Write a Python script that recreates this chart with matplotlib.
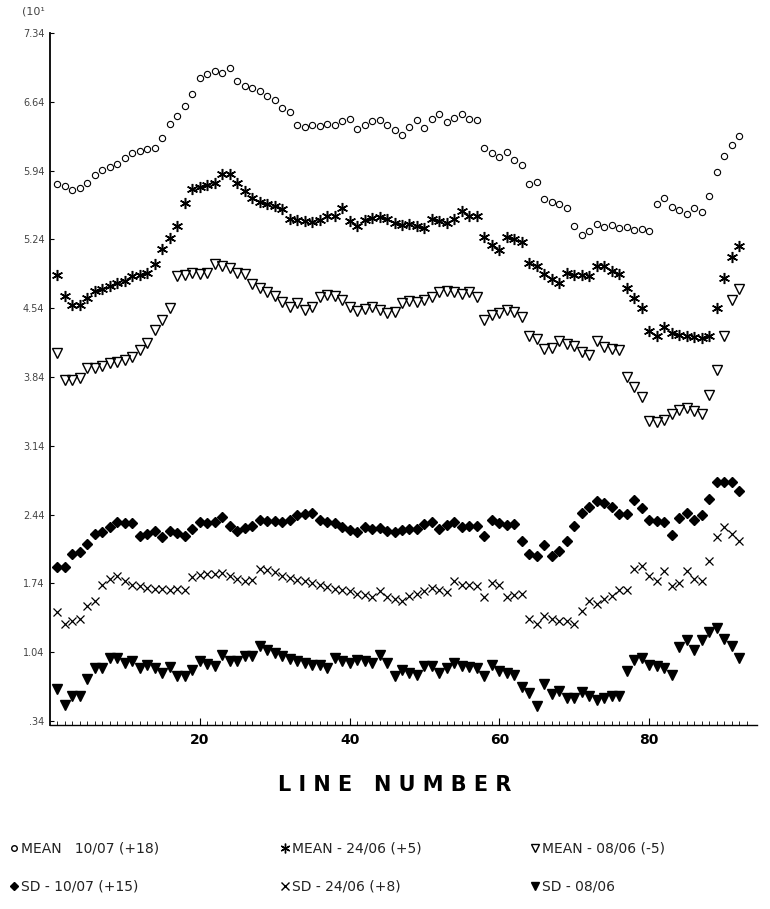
import matplotlib
matplotlib.use("Agg")
import matplotlib.pyplot as plt
import numpy as np
from matplotlib.lines import Line2D

line_number = list(range(1, 93))

mean_1007 = [5.80,5.78,5.74,5.76,5.81,5.90,5.95,5.98,6.01,6.07,
             6.12,6.14,6.16,6.17,6.27,6.41,6.50,6.60,6.72,6.88,
             6.92,6.95,6.93,6.98,6.85,6.80,6.78,6.75,6.70,6.66,
             6.58,6.54,6.40,6.38,6.40,6.39,6.41,6.40,6.44,6.46,
             6.36,6.40,6.44,6.45,6.40,6.35,6.30,6.38,6.45,6.37,
             6.47,6.52,6.43,6.48,6.52,6.46,6.45,6.17,6.12,6.08,
             6.13,6.05,6.00,5.80,5.82,5.65,5.62,5.60,5.56,5.38,
             5.28,5.33,5.40,5.37,5.39,5.36,5.37,5.34,5.35,5.33,
             5.60,5.66,5.57,5.54,5.50,5.56,5.52,5.68,5.93,6.09,
             6.20,6.29]

mean_2406 = [4.88,4.66,4.57,4.57,4.64,4.72,4.74,4.77,4.80,4.82,
             4.87,4.88,4.90,4.99,5.14,5.25,5.38,5.61,5.75,5.77,
             5.79,5.81,5.91,5.91,5.81,5.73,5.66,5.62,5.60,5.58,
             5.55,5.45,5.44,5.43,5.42,5.44,5.48,5.48,5.56,5.43,
             5.38,5.44,5.46,5.47,5.45,5.41,5.39,5.40,5.38,5.36,
             5.45,5.43,5.41,5.45,5.53,5.48,5.48,5.26,5.18,5.13,
             5.26,5.24,5.21,5.00,4.97,4.89,4.84,4.80,4.90,4.88,
             4.88,4.87,4.97,4.97,4.92,4.89,4.75,4.64,4.54,4.31,
             4.26,4.35,4.29,4.27,4.26,4.25,4.24,4.26,4.54,4.85,
             5.06,5.17]

mean_0806 = [4.08,3.81,3.81,3.83,3.93,3.93,3.95,3.98,3.99,4.01,
             4.04,4.11,4.19,4.32,4.42,4.54,4.87,4.88,4.90,4.89,
             4.90,4.99,4.97,4.95,4.90,4.89,4.79,4.75,4.70,4.66,
             4.60,4.55,4.59,4.52,4.55,4.65,4.67,4.66,4.62,4.55,
             4.51,4.53,4.55,4.52,4.49,4.50,4.59,4.61,4.60,4.62,
             4.65,4.70,4.72,4.70,4.68,4.70,4.65,4.42,4.47,4.49,
             4.52,4.50,4.45,4.26,4.23,4.13,4.14,4.21,4.18,4.16,
             4.09,4.06,4.21,4.15,4.13,4.11,3.84,3.74,3.64,3.39,
             3.38,3.40,3.46,3.50,3.53,3.49,3.46,3.66,3.91,4.26,
             4.62,4.74]

sd_1007 = [1.91,1.91,2.04,2.06,2.14,2.24,2.26,2.31,2.37,2.35,
           2.35,2.22,2.24,2.27,2.21,2.27,2.25,2.22,2.29,2.37,
           2.36,2.37,2.42,2.32,2.27,2.30,2.32,2.39,2.38,2.38,
           2.37,2.39,2.44,2.45,2.46,2.39,2.37,2.36,2.31,2.28,
           2.26,2.31,2.29,2.30,2.27,2.26,2.28,2.29,2.29,2.34,
           2.37,2.29,2.33,2.37,2.31,2.32,2.32,2.22,2.39,2.36,
           2.33,2.34,2.17,2.04,2.02,2.13,2.02,2.07,2.17,2.32,
           2.46,2.52,2.58,2.56,2.52,2.45,2.45,2.59,2.51,2.39,
           2.38,2.37,2.23,2.41,2.46,2.39,2.44,2.60,2.77,2.77,
           2.77,2.68]

sd_2406 = [1.45,1.33,1.36,1.38,1.51,1.56,1.72,1.79,1.82,1.76,
           1.72,1.71,1.69,1.68,1.68,1.67,1.68,1.67,1.81,1.83,
           1.84,1.84,1.85,1.82,1.79,1.76,1.78,1.89,1.88,1.86,
           1.82,1.80,1.78,1.76,1.74,1.72,1.70,1.68,1.67,1.66,
           1.63,1.62,1.60,1.66,1.60,1.58,1.56,1.61,1.63,1.66,
           1.69,1.67,1.65,1.77,1.72,1.72,1.71,1.60,1.74,1.72,
           1.60,1.62,1.63,1.38,1.33,1.41,1.38,1.36,1.36,1.33,
           1.46,1.56,1.53,1.58,1.61,1.67,1.67,1.89,1.92,1.82,
           1.76,1.87,1.71,1.74,1.87,1.79,1.76,1.97,2.21,2.31,
           2.24,2.17]

sd_0806 = [0.67,0.50,0.59,0.60,0.77,0.88,0.88,0.98,0.98,0.93,
           0.95,0.88,0.91,0.88,0.83,0.89,0.80,0.80,0.86,0.95,
           0.92,0.90,1.01,0.95,0.95,1.00,1.00,1.10,1.06,1.03,
           1.00,0.97,0.95,0.93,0.91,0.91,0.88,0.98,0.95,0.93,
           0.96,0.95,0.93,1.01,0.93,0.80,0.86,0.83,0.81,0.90,
           0.90,0.83,0.88,0.93,0.90,0.89,0.88,0.80,0.91,0.85,
           0.83,0.81,0.69,0.63,0.49,0.72,0.62,0.65,0.57,0.57,
           0.64,0.60,0.55,0.57,0.59,0.59,0.85,0.96,0.98,0.91,
           0.90,0.88,0.81,1.09,1.16,1.06,1.16,1.25,1.29,1.17,
           1.10,0.98]

ytick_vals = [0.34, 1.04, 1.74, 2.44, 3.14, 3.84, 4.54, 5.24, 5.94, 6.64, 7.34]
ytick_labels = [".34", "1.04", "1.74", "2.44", "3.14", "3.84", "4.54", "5.24", "5.94", "6.64", "7.34"]
xtick_vals = [20, 40, 60, 80]

legend_row1 = ["MEAN   10/07 (+18)", "MEAN - 24/06 (+5)", "MEAN - 08/06 (-5)"]
legend_row2 = ["SD - 10/07 (+15)", "SD - 24/06 (+8)", "SD - 08/06"]

fig = plt.figure(figsize=(7.70, 9.09), dpi=100)
ax = fig.add_axes([50/770, 1 - 725/909, (757 - 50)/770, (725 - 33)/909])

x = np.array(line_number)
k = dict(linestyle="none", color="black")
ax.plot(x, mean_1007, marker="o", markersize=4.5, markerfacecolor="none", markeredgewidth=0.8, **k)
ax.plot(x, mean_2406, marker=(6, 2, 0), markersize=8, markeredgewidth=1.1, **k)
ax.plot(x, mean_0806, marker="v", markersize=7, markerfacecolor="none", markeredgewidth=1.0, **k)
ax.plot(x, sd_1007, marker="D", markersize=5.5, markerfacecolor="black", **k)
ax.plot(x, sd_2406, marker="x", markersize=6, markeredgewidth=0.9, **k)
ax.plot(x, sd_0806, marker="v", markersize=7, markerfacecolor="black", **k)

ax.set_xlim(0, 94.4)
ax.set_ylim(0.30, 7.34)
for s in ["top", "right"]:
    ax.spines[s].set_visible(False)
ax.spines["left"].set_linewidth(1.3)
ax.spines["bottom"].set_linewidth(1.0)

ax.set_xticks(xtick_vals)
ax.set_xticklabels([str(v) for v in xtick_vals], fontsize=10, fontweight="bold")
ax.set_xticks(np.arange(1, 94, 1), minor=True)
ax.tick_params(axis="x", which="major", direction="in", length=5, pad=6)
ax.tick_params(axis="x", which="minor", direction="in", length=3, width=0.6)
ax.set_yticks(ytick_vals)
ax.set_yticklabels(ytick_labels, fontsize=7, color="#444444")
ax.tick_params(axis="y", direction="in", length=3, pad=4)

fig.text(395/770, 1 - 785/909, "L I N E   N U M B E R", ha="center", va="center",
         fontsize=15, fontweight="bold")
fig.text(22/770, 1 - 12/909, "(10¹", ha="left", va="center", fontsize=8, color="#444444")

# legend
cols = [14, 285, 535]
rows = [848, 886]
markers1 = [dict(marker="o", markerfacecolor="none", markersize=4),
            dict(marker=(6, 2, 0), markersize=7),
            dict(marker="v", markerfacecolor="none", markersize=6)]
markers2 = [dict(marker="D", markerfacecolor="black", markersize=4.5),
            dict(marker="x", markersize=5.5),
            dict(marker="v", markerfacecolor="black", markersize=6)]
for row_y, labels, mks in [(rows[0], legend_row1, markers1), (rows[1], legend_row2, markers2)]:
    for cx, lab, mk in zip(cols, labels, mks):
        fx = cx / 770
        fy = 1 - row_y / 909
        fig.add_artist(Line2D([fx], [fy], color="black", linestyle="none",
                              transform=fig.transFigure, **mk))
        fig.text(fx + 7/770, fy, lab, ha="left", va="center", fontsize=10,
                 color="#222222")

fig.savefig("out.png", dpi=100)
